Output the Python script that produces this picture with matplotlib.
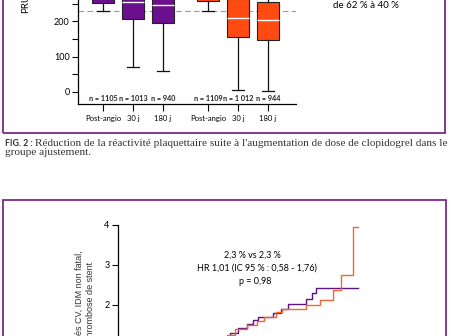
import matplotlib.pyplot as plt
from matplotlib.patches import Rectangle

# --- données du haut : PRU (boîtes), tronquées en haut de l'image
groupes = ['Post-angio', '30 j', '180 j', 'Post-angio', '30 j', '180 j']
positions = [1, 2, 3, 4.5, 5.5, 6.5]
q1 = [252, 206, 195, 256, 156, 147]
mediane = [285, 255, 245, 285, 210, 202]
q3 = [320, 295, 290, 320, 262, 255]
moust_bas = [230, 69, 60, 230, 4, 3]
moust_haut = [400, 390, 390, 400, 380, 380]
n_labels = ['n = 1105', 'n = 1013', 'n = 940', 'n = 1109', 'n = 1 012', 'n = 944']
seuil = 230

# --- données du bas : courbes Kaplan-Meier (%)
jours_violet = [0, 2, 10, 25, 40, 55, 70, 84, 90, 97, 101, 105, 116, 122, 127, 141, 145, 148, 180]
vals_violet = [0, 0.45, 0.6, 0.7, 0.85, 0.95, 1.1, 1.30, 1.42, 1.52, 1.62, 1.71, 1.81, 1.90, 2.02, 2.15, 2.30, 2.42, 2.42]
jours_orange = [0, 2, 10, 25, 40, 55, 70, 82, 88, 97, 104, 109, 118, 123, 141, 151, 161, 167, 176, 180]
vals_orange = [0, 0.4, 0.55, 0.7, 0.8, 0.95, 1.1, 1.25, 1.39, 1.50, 1.61, 1.71, 1.82, 1.90, 2.00, 2.12, 2.37, 2.75, 3.96, 3.96]

VIOLET = '#6B0F8F'
ORANGE = '#FF4B12'
BORD = '#7D2A87'
W, H = 451, 336

def fx(px):
    return px / W

def fy(py):
    return 1 - py / H

plt.rcParams['font.family'] = ['Lato', 'DejaVu Sans']
fig = plt.figure(figsize=(4.51, 3.36), dpi=100)

# cadres violets
fig.add_artist(Rectangle((fx(3), fy(133)), fx(442), 143 / H, fill=False,
                         edgecolor=BORD, lw=1.3, transform=fig.transFigure))
fig.add_artist(Rectangle((fx(3), fy(346)), fx(443), 146 / H, fill=False,
                         edgecolor=BORD, lw=1.3, transform=fig.transFigure))

# ---- graphique du haut
ax1 = fig.add_axes([fx(78), fy(104), (296 - 78) / W, 104 / H])
stats = []
for i in range(len(positions)):
    stats.append(dict(q1=q1[i], med=mediane[i], q3=q3[i],
                      whislo=moust_bas[i], whishi=moust_haut[i], fliers=[]))
bp = ax1.bxp(stats, positions=positions, widths=0.72, capwidths=0.4,
             patch_artist=True, showfliers=False,
             boxprops=dict(edgecolor='#222222', lw=0.8),
             medianprops=dict(color='white', lw=1),
             whiskerprops=dict(color='#111111', lw=0.9),
             capprops=dict(color='#111111', lw=0.9))
for i, box in enumerate(bp['boxes']):
    box.set_facecolor(VIOLET if i < 3 else ORANGE)
ax1.axhline(seuil, color='#9a9a9a', ls=(0, (5, 3)), lw=0.8, zorder=0)
ax1.set_xlim(0.1667, 7.433)
ax1.set_ylim(-34.3, 260)
ax1.set_yticks([0, 100, 200])
ax1.set_yticks([50, 150, 250], minor=True)
ax1.set_xticks(positions)
ax1.set_xticklabels(groupes, fontsize=5.5)
ax1.tick_params(axis='y', which='both', length=4, width=0.8, labelsize=6.5, pad=2)
ax1.tick_params(axis='x', length=5, width=0.8, pad=3)
for s in ['top', 'right']:
    ax1.spines[s].set_visible(False)
for s in ['left', 'bottom']:
    ax1.spines[s].set_linewidth(0.9)
for p, lab in zip(positions, n_labels):
    ax1.text(p, -20, lab, ha='center', va='center', fontsize=5.2, fontweight='bold', color='#222222')
fig.text(fx(26), fy(13), 'PRU', rotation=90, ha='center', va='bottom', fontsize=7)
fig.text(fx(333), fy(6), 'de 62 % à 40 %', ha='left', va='center', fontsize=7)

# ---- légende
fig.text(fx(5), fy(143), 'FIG. 2 :', ha='left', va='center', fontsize=6.3,
         fontweight='bold', color='#333333')
fig.text(fx(35), fy(143),
         "Réduction de la réactivité plaquettaire suite à l'augmentation de dose de clopidogrel dans le",
         ha='left', va='center', fontsize=8.1, family='Liberation Serif', color='#333333')
fig.text(fx(5), fy(153), 'groupe ajustement.', ha='left', va='center', fontsize=8.1,
         family='Liberation Serif', color='#333333')

# ---- graphique du bas
ax2 = fig.add_axes([fx(118), fy(385), (385 - 118) / W, (385 - 225) / H])
ax2.step(jours_violet, vals_violet, where='post', color='#5A1585', lw=1.0)
ax2.step(jours_orange, vals_orange, where='post', color='#F4662E', lw=1.0)
ax2.set_xlim(0, 200)
ax2.set_ylim(0, 4)
ax2.set_xticks([])
ax2.set_yticks([0, 1, 2, 3, 4])
ax2.tick_params(axis='y', length=4, width=0.8, labelsize=6.5, pad=2)
for s in ['top', 'right']:
    ax2.spines[s].set_visible(False)
ax2.spines['left'].set_linewidth(0.9)
fig.text(fx(85), fy(250), 'Décès CV, IDM non fatal,\nthrombose de stent', rotation=90,
         ha='center', va='top', multialignment='center', fontsize=6.5,
         family='Liberation Sans', linespacing=1.4, color='#333333')
fig.text(fx(252), fy(255), '2,3 % vs 2,3 %', ha='center', va='center', fontsize=6.5)
fig.text(fx(257), fy(268), 'HR 1,01 (IC 95 % : 0,58 - 1,76)', ha='center', va='center', fontsize=6.5)
fig.text(fx(255), fy(281), 'p = 0,98', ha='center', va='center', fontsize=6.5)

fig.savefig('out.png', dpi=100)
